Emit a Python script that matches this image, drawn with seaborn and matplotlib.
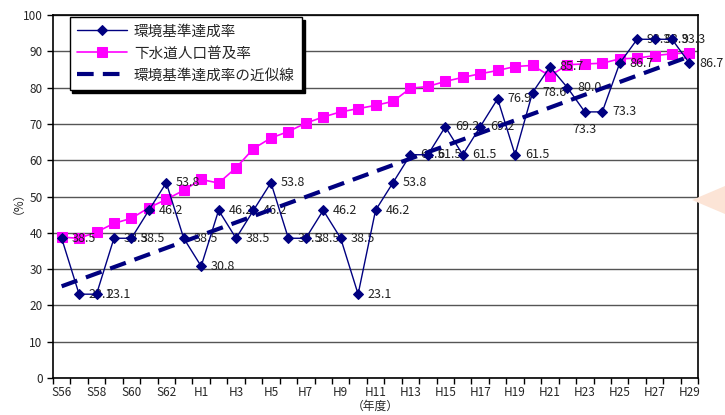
import numpy as np
import pandas as pd
import matplotlib
matplotlib.use("Agg")
import matplotlib.pyplot as plt
from matplotlib.patches import Polygon
import seaborn as sns

# 年度 (S56 - H29)
years = ["S56", "S57", "S58", "S59", "S60", "S61", "S62", "S63"] + [f"H{i}" for i in range(1, 30)]

# 環境基準達成率 (%)
attain = [38.5, 23.1, 23.1, 38.5, 38.5, 46.2, 53.8, 38.5,
          30.8, 46.2, 38.5, 46.2, 53.8, 38.5, 38.5, 46.2, 38.5, 23.1,
          46.2, 53.8, 61.5, 61.5, 69.2, 61.5, 69.2, 76.9, 61.5, 78.6,
          85.7, 80.0, 73.3, 73.3, 86.7, 93.3, 93.3, 93.3, 86.7]

# 下水道人口普及率 (%)
sewer = [38.8, 38.5, 40.2, 42.6, 44.0, 46.9, 49.2, 51.7,
         54.7, 53.7, 57.9, 63.2, 66.1, 67.9, 70.2, 71.9, 73.3, 74.2,
         75.1, 76.2, 79.8, 80.3, 81.7, 82.8, 83.8, 84.7, 85.8, 86.1,
         83.2, 86.3, 86.5, 86.7, 87.9, 88.1, 88.8, 89.3, 89.6]

x = np.arange(len(years))
df = pd.DataFrame({"x": x, "attain": attain, "sewer": sewer})

# 近似線 (linear trend of 環境基準達成率)
coef = np.polyfit(x, attain, 1)
df["trend"] = np.polyval(coef, x)

sns.set_theme(style="white")
plt.rcParams["font.family"] = ["Noto Sans CJK JP", "DejaVu Sans"]

fig = plt.figure(figsize=(7.25, 4.15), dpi=100)
ax = fig.add_axes([0.073, 0.089, 0.890, 0.875])

navy = "#000080"
pink = "#FF00FF"

sns.lineplot(data=df, x="x", y="attain", ax=ax, color=navy, lw=1.0,
             marker="D", markersize=5.5, markeredgecolor=navy,
             label="環境基準達成率", zorder=4)
sns.lineplot(data=df, x="x", y="sewer", ax=ax, color=pink, lw=1.2,
             marker="s", markersize=6.5, markeredgecolor=pink,
             label="下水道人口普及率", zorder=3)
sns.lineplot(data=df, x="x", y="trend", ax=ax, color=navy, lw=3.0,
             dashes=False, label="環境基準達成率の近似線", zorder=5)
ax.lines[-1].set_dashes([4, 2.2])

# data labels
for xi, v in zip(x, attain):
    if years[xi] == "H23":
        ax.annotate(f"{v:.1f}", (xi, v), xytext=(0, -8), textcoords="offset points",
                    ha="center", va="top", fontsize=9, color="#222222")
    else:
        ax.annotate(f"{v:.1f}", (xi, v), xytext=(7, 0), textcoords="offset points",
                    ha="left", va="center", fontsize=9, color="#222222")

ax.set_xlim(-0.5, len(years) - 0.5)
ax.set_ylim(0, 100)
ax.set_yticks(range(0, 101, 10))
ax.set_xticks(x[::2])
ax.set_xticklabels(years[::2], fontsize=8.5)
ax.set_xticks(np.arange(-0.5, len(years), 1), minor=True)
ax.tick_params(axis="x", which="major", length=0, pad=6)
ax.tick_params(axis="x", which="minor", length=4, width=1, direction="out", color="black", bottom=True)
ax.tick_params(axis="y", length=4, width=1, direction="out", color="black", left=True, labelsize=8.5)
ax.grid(axis="y", color="#555555", lw=1.0)
ax.set_axisbelow(True)
for s in ax.spines.values():
    s.set_color("black")
    s.set_linewidth(1.2)

ax.set_xlabel("（年度）", fontsize=8.5, labelpad=0)
ax.set_ylabel("（%）", fontsize=8.5, labelpad=3)

leg = ax.legend(loc="upper left", bbox_to_anchor=(0.026, 0.994), fontsize=10.5,
                borderaxespad=0, frameon=True, fancybox=False, edgecolor="black",
                framealpha=1, handlelength=3.4, handletextpad=0.5, borderpad=0.5,
                labelspacing=0.55, shadow={"color": "black", "alpha": 1})
leg.get_frame().set_linewidth(1.0)

# decorative triangle at right edge
fig.patches.append(Polygon([[692, 215], [725, 201], [725, 229]], closed=True,
                           transform=None, facecolor="#FCE4D6", edgecolor="none"))

fig.savefig("out.png", dpi=100)
